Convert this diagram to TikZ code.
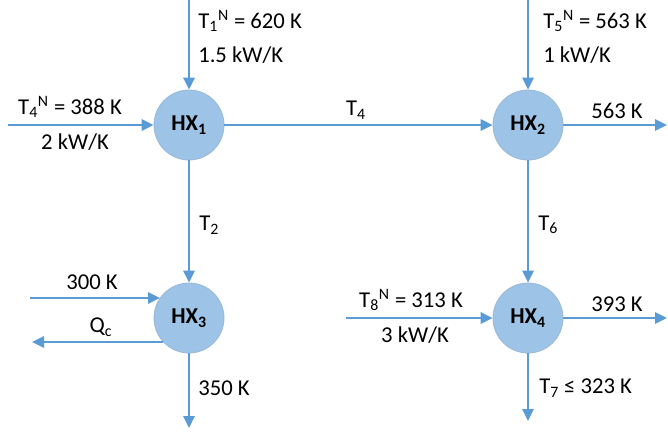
\documentclass[tikz,border=0pt]{standalone}
\usepackage{fontspec}
\setmainfont{Carlito}
\usetikzlibrary{arrows.meta}
\definecolor{streamblue}{RGB}{91,155,213}
\definecolor{hxblue}{RGB}{157,195,230}
\newcommand{\tin}[1]{T\textsubscript{#1}\textsuperscript{N}}

\begin{document}
\begin{tikzpicture}[
      x=0.75pt, y=-0.75pt,
      every node/.style={font=\fontsize{17}{20}\selectfont},
      hx/.style={circle, fill=hxblue, draw=hxblue!85!gray, line width=0.6pt,
                 minimum size=52.5pt, inner sep=0pt,
                 font=\fontsize{17}{20}\selectfont\bfseries},
      lbl/.style={inner sep=0pt},
      flow/.style={streamblue, line width=1.5pt,
                   -{Triangle[length=9pt,width=8.5pt]}},
      pipe/.style={streamblue, line width=1.5pt},
    ]
    \useasboundingbox (0,0) rectangle (668,432);

    % Heat exchangers
    \node[hx] (hx1) at (189,125) {HX\textsubscript{1}};
    \node[hx] (hx2) at (528,125) {HX\textsubscript{2}};
    \node[hx] (hx3) at (189,318) {HX\textsubscript{3}};
    \node[hx] (hx4) at (528,318) {HX\textsubscript{4}};

    % Free stream ends
    \coordinate (in1)  at (189,0);
    \coordinate (in4)  at (8,125);
    \coordinate (in5)  at (528,0);
    \coordinate (out5) at (667,125);
    \coordinate (cw)   at (30,298);
    \coordinate (qc)   at (32,342);
    \coordinate (out3) at (189,428);
    \coordinate (in8)  at (346,318);
    \coordinate (out8) at (667,318);
    \coordinate (out7) at (528,421);

    % Streams
    \draw[flow] (in1) -- (hx1);
    \draw[flow] (in4) -- (hx1);
    \draw[flow] (hx1) -- (hx2);
    \draw[flow] (in5) -- (hx2);
    \draw[flow] (hx2) -- (out5);
    \draw[flow] (hx1) -- (hx3);
    \draw[flow] (hx2) -- (hx4);
    \draw[flow] (cw) -- (cw -| hx3.145);
    \draw[flow] (qc -| hx3.223) -- (qc);
    \draw[flow] (hx3) -- (out3);
    \draw[flow] (in8) -- (hx4);
    \draw[flow] (hx4) -- (out8);
    \draw[flow] (hx4) -- (out7);

    % Labels
    \node[lbl, anchor=west] (t1)  at (198,21)  {\tin{1} = 620 K};
    \node[lbl, anchor=west] (c1)  at (198,55)  {1.5 kW/K};
    \node[lbl]              (t4n) at (70,107)  {\tin{4} = 388 K};
    \node[lbl]              (c4)  at (75,142)  {2 kW/K};
    \node[lbl]              (t4)  at (356,110) {T\textsubscript{4}};
    \node[lbl, anchor=west] (t5)  at (543,21)  {\tin{5} = 563 K};
    \node[lbl, anchor=west] (c5)  at (543,55)  {1 kW/K};
    \node[lbl]              (o5)  at (617,111) {563 K};
    \node[lbl, anchor=west] (t2)  at (199,225) {T\textsubscript{2}};
    \node[lbl, anchor=west] (t6)  at (538,225) {T\textsubscript{6}};
    \node[lbl]              (tcw) at (92,282)  {300 K};
    \node[lbl]              (tqc) at (101,327) {Q\textsubscript{c}};
    \node[lbl, anchor=west] (t3)  at (198,388) {350 K};
    \node[lbl]              (t8)  at (411,300) {\tin{8} = 313 K};
    \node[lbl]              (c8)  at (415,335) {3 kW/K};
    \node[lbl]              (o8)  at (617,304) {393 K};
    \node[lbl, anchor=west] (t7)  at (539,388) {T\textsubscript{7} ≤ 323 K};
  \end{tikzpicture}
\end{document}
